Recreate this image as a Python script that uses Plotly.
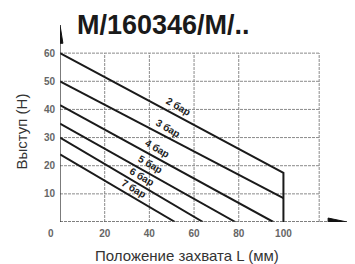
import numpy as np
import plotly.graph_objects as go

# ---- data ----
series_names = ["2 бар", "3 бар", "4 бар", "5 бар", "6 бар", "7 бар"]
x_2bar = [0, 100, 100]
y_2bar = [60, 17.5, 0]
x_3bar = [0, 100]
y_3bar = [50, 8.5]
x_4bar = [0, 95.5]
y_4bar = [41.5, 0]
x_5bar = [0, 78.5]
y_5bar = [35, 0]
x_6bar = [0, 64]
y_6bar = [30, 0]
x_7bar = [0, 51.5]
y_7bar = [24, 0]
x_ticks = [20, 40, 60, 80, 100]
y_ticks = [10, 20, 30, 40, 50, 60]
title_text = "M/160346/M/.."
x_title = "Положение захвата L (мм)"
y_title = "Выступ (Н)"

series_x = [x_2bar, x_3bar, x_4bar, x_5bar, x_6bar, x_7bar]
series_y = [y_2bar, y_3bar, y_4bar, y_5bar, y_6bar, y_7bar]

# layout constants
label_pos_x = [53, 48.5, 43.5, 40.5, 36.5, 33]
label_offset = 3.4
grid_h = [10, 20, 30, 40, 50, 60]
grid_v = [20, 40, 60, 80, 116]
frame_x, frame_y = 116, 60

fig = go.Figure()
for xs, ys, name in zip(series_x, series_y, series_names):
    fig.add_trace(go.Scatter(x=xs, y=ys, mode="lines", name=name,
                             line=dict(color="#1a1a1a", width=2),
                             hoverinfo="skip", showlegend=False))

shapes = []
gcol = "#8a8a8a"
for gy in grid_h:
    shapes.append(dict(type="line", x0=0, x1=frame_x, y0=gy, y1=gy,
                       line=dict(color=gcol, width=1, dash="3px,1px"), layer="below"))
for gx in grid_v:
    shapes.append(dict(type="line", x0=gx, x1=gx, y0=0, y1=frame_y,
                       line=dict(color=gcol, width=1, dash="3px,1px"), layer="below"))
# x axis (dashed) + arrow
shapes.append(dict(type="line", x0=0, x1=120, y0=0, y1=0,
                   line=dict(color="#555", width=1.3, dash="3px,1px")))
shapes.append(dict(type="path", path="M 120,1.4 L 128.5,0 L 120,-1.4 Z",
                   fillcolor="#111", line=dict(color="#111", width=1)))
# y axis + arrow
shapes.append(dict(type="line", x0=0, x1=0, y0=0, y1=64,
                   line=dict(color="#333", width=1.3)))
shapes.append(dict(type="path", path="M -1.3,63.5 L 0,70 L 1.3,63.5 Z",
                   fillcolor="#111", line=dict(color="#111", width=1)))

annotations = []
for xs, ys, name, lx in zip(series_x, series_y, series_names, label_pos_x):
    ly = float(np.interp(lx, xs[:2], ys[:2])) + label_offset
    annotations.append(dict(x=lx, y=ly, text=name, showarrow=False, textangle=30,
                            font=dict(family="Liberation Sans", size=10, color="#222",
                                      weight="bold"),
                            xanchor="center", yanchor="middle"))
annotations.append(dict(x=0, y=0, text="0", showarrow=False, xanchor="center",
                        yanchor="middle", xshift=-9, yshift=-11,
                        font=dict(family="Liberation Sans", size=10, color="#666",
                                  weight="bold")))
annotations.append(dict(xref="paper", yref="paper", x=0.052, y=1.0, text=title_text,
                        showarrow=False, xanchor="left", yanchor="middle",
                        font=dict(family="Liberation Sans", size=27, color="#1a1a1a",
                                  weight="bold")))
annotations.append(dict(xref="paper", yref="paper", x=-0.135, y=0.46, text=y_title,
                        showarrow=False, textangle=-90, xanchor="center", yanchor="middle",
                        font=dict(family="Liberation Sans", size=15, color="#333")))
annotations.append(dict(xref="paper", yref="paper", x=0.44, y=-0.17, text=x_title,
                        showarrow=False, xanchor="center", yanchor="middle",
                        font=dict(family="Liberation Sans", size=15, color="#333")))

fig.update_layout(
    width=347, height=256,
    margin=dict(l=52, r=7, t=17, b=42, autoexpand=False),
    paper_bgcolor="white", plot_bgcolor="white",
    shapes=shapes, annotations=annotations,
    xaxis=dict(range=[0, 128.9], showgrid=False, zeroline=False, showline=False,
               tickvals=x_ticks, ticks="", ticklabelstandoff=4,
               tickfont=dict(family="Liberation Sans", size=10, color="#666", weight="bold")),
    yaxis=dict(range=[0, 70], showgrid=False, zeroline=False, showline=False,
               tickvals=y_ticks, ticks="", ticklabelstandoff=4,
               tickfont=dict(family="Liberation Sans", size=10, color="#666", weight="bold")),
)

fig.write_html("out.html")
